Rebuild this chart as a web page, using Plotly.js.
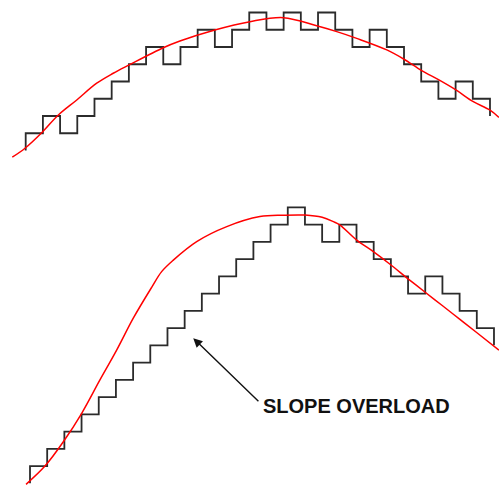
<!DOCTYPE html>
<html>
<head>
<meta charset="utf-8">
<script src="https://cdn.plot.ly/plotly-3.0.1.min.js"></script>
<style>html,body{margin:0;padding:0;background:#fff;}#chart{width:499px;height:485px;}</style>
</head>
<body>
<div id="chart"></div>
<script>
// Top panel: delta-modulation staircase (start level, 27 step levels, end level)
const topStepLevels = [0, 1,2,1,2,3,4,5,6,5,6,7,6,7,8,7,8,7,8,7,6,7,6,5,4,3,4,3, 2];
// Top panel: analog signal (time in steps, amplitude in step units)
const topSignalT = [-0.78,-0.04,0.93,1.90,2.97,4.13,5.09,6.01,8.0,8.97,11.0,13.04,14.98,16.92,18.09,19.25,21.0,22.0,23.03,24.03,25.02,26.03,26.98,27.52];
const topSignalV = [-0.39,0.13,1.03,2.06,2.93,3.90,4.48,4.96,5.96,6.35,6.99,7.47,7.70,7.23,6.89,6.50,5.83,5.29,4.63,4.09,3.51,2.83,2.35,1.92];

// Bottom panel: slope overload staircase
const botStepLevels = [0, 1,2,3,4,5,6,7,8,9,10,11,12,13,14,15,16,15,14,15,14,13,12,11,12,11,10,9, 8];
const botSignalT = [-0.23,0.87,1.94,3.01,4.07,5.05,6.01,7.08,7.66,8.34,9.70,11.45,13.38,14.74,16.0,17.0,17.65,18.04,19.01,19.98,20.95,21.98,22.94,23.97,24.98,25.99,27.29];
const botSignalV = [-0.06,1.0,2.41,4.06,5.99,7.73,9.57,11.36,12.27,12.94,14.01,14.88,15.46,15.54,15.55,15.42,15.17,14.97,14.10,13.43,12.70,11.87,11.12,10.32,9.53,8.74,7.72];

const label = "SLOPE OVERLOAD";

function stepX(levels){
  const xs = [0];
  for (let i = 1; i < levels.length; i++) xs.push(i - 1);
  xs[xs.length - 1] = levels.length - 2;
  return xs;
}

const stairColor = '#2b2b2b';
const sigColor = '#ff0000';

const data = [
  {x: stepX(topStepLevels), y: topStepLevels, xaxis:'x', yaxis:'y', mode:'lines',
   line:{shape:'hv', color:stairColor, width:1.8}, hoverinfo:'skip'},
  {x: topSignalT, y: topSignalV, xaxis:'x', yaxis:'y', mode:'lines',
   line:{shape:'spline', smoothing:1, color:sigColor, width:1.5}, hoverinfo:'skip'},
  {x: stepX(botStepLevels), y: botStepLevels, xaxis:'x2', yaxis:'y2', mode:'lines',
   line:{shape:'hv', color:stairColor, width:1.8}, hoverinfo:'skip'},
  {x: botSignalT, y: botSignalV, xaxis:'x2', yaxis:'y2', mode:'lines',
   line:{shape:'spline', smoothing:1, color:sigColor, width:1.5}, hoverinfo:'skip'}
];

const hidden = {visible:false, showgrid:false, zeroline:false, fixedrange:true};
const layout = {
  width:499, height:485,
  margin:{l:0,r:0,t:0,b:0,pad:0},
  paper_bgcolor:'#ffffff', plot_bgcolor:'#ffffff',
  showlegend:false,
  xaxis: Object.assign({range:[-1.4945, 27.524], domain:[0,1]}, hidden),
  yaxis: Object.assign({range:[-19.391, 8.725], domain:[0,1]}, hidden),
  xaxis2: Object.assign({range:[-1.7457, 27.292], domain:[0,1], overlaying:'x', anchor:'y2'}, hidden),
  yaxis2: Object.assign({range:[-0.0986, 28.017], domain:[0,1], overlaying:'y', anchor:'x2'}, hidden),
  annotations:[
    {xref:'x2', yref:'y2', x:9.50, y:8.41, axref:'x2', ayref:'y2', ax:13.38, ay:4.67,
     text:'', showarrow:true, arrowhead:2, arrowsize:1.3, arrowwidth:1.4, arrowcolor:'#111111'},
    {xref:'x2', yref:'y2', x:19.01, y:4.48, text:'<b>'+label+'</b>', showarrow:false,
     font:{family:'Liberation Sans, Arial, sans-serif', size:20, color:'#111111'},
     xanchor:'center', yanchor:'middle'}
  ]
};

Plotly.newPlot('chart', data, layout, {staticPlot:true, displayModeBar:false});
</script>
</body>
</html>
